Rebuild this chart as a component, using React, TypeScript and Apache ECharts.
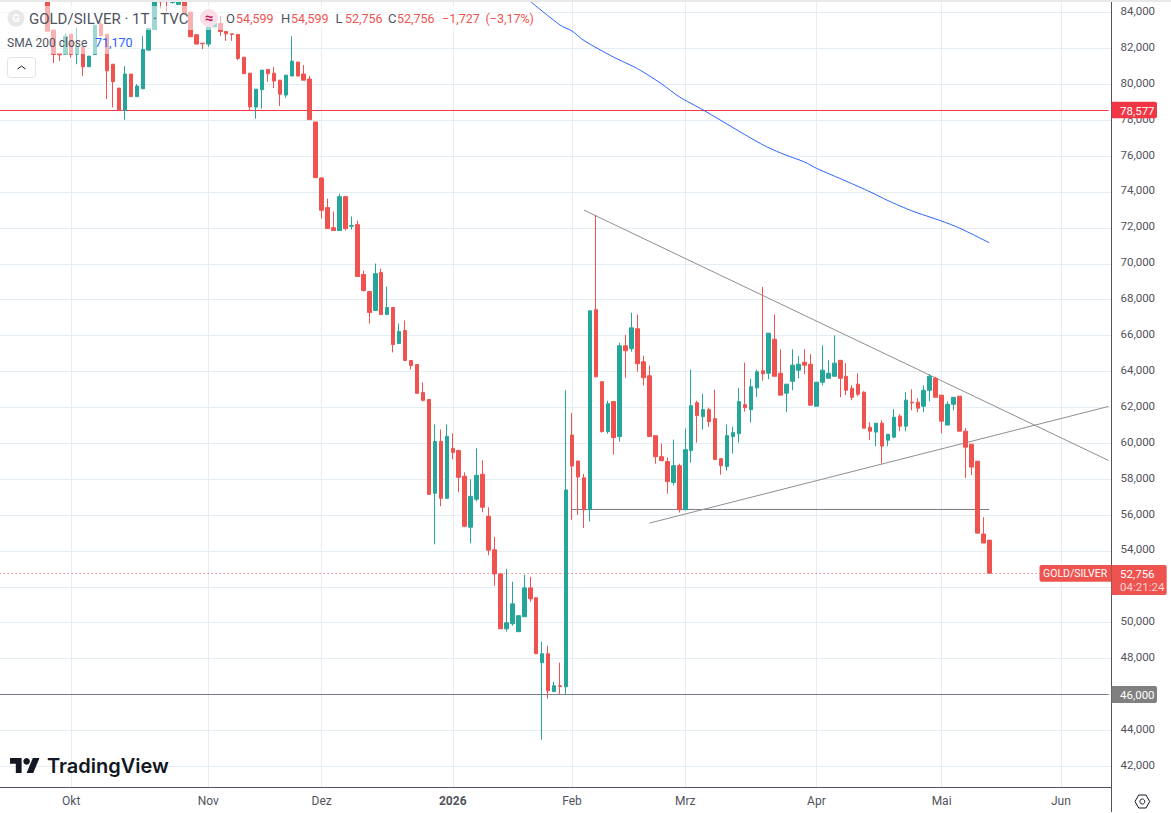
import React, { useEffect, useRef } from "react";
import * as echarts from "echarts";

const slotCount = 187;
const leadingSlots = 8;
const monthLabels: Record<number, string> = { 12: "Okt", 35: "Nov", 54: "Dez", 76: "2026", 96: "Feb", 115: "Mrz", 137: "Apr", 158: "Mai", 178: "Jun" };

const opens = [85.5,83.02,81.72,81.68,82.79,81.68,82.09,80.98,81.66,83.35,82.79,81.12,79.79,78.55,80.57,79.31,79.75,81.90,83.05,85.0,84.9,84.55,84.45,85.0,84.02,82.76,82.29,82.24,83.20,83.39,82.94,82.81,82.78,81.51,80.62,78.73,79.70,80.83,80.62,80.23,79.40,80.46,81.24,80.57,80.29,77.90,74.78,73.13,72.01,71.85,73.74,72.09,72.18,69.40,68.45,67.40,69.51,67.17,67.56,65.56,66.28,64.61,64.39,62.83,62.44,57.21,60.10,56.93,59.71,59.60,58.16,55.32,56.88,58.27,55.93,54.06,52.72,49.66,49.94,49.50,50.33,51.94,51.39,47.77,48.27,46.16,46.49,46.43,60.46,59.01,58.07,56.30,67.44,63.43,60.65,62.32,60.37,65.43,65.27,66.38,64.54,63.76,60.42,59.25,58.98,57.81,58.75,56.30,59.59,62.26,61.48,61.87,61.37,59.14,58.70,60.37,60.53,62.15,61.87,63.09,64.04,63.90,65.79,63.90,62.79,63.45,64.07,64.51,64.40,62.06,63.40,63.62,63.73,64.62,63.73,63.06,63.29,62.84,60.89,60.62,61.12,60.17,60.34,61.51,60.95,62.29,62.29,62.06,62.95,63.62,62.68,61.01,62.17,62.62,60.67,59.95,59.0,54.94,54.599];
const closes = [82.96,81.66,81.64,82.68,81.66,82.09,80.98,81.57,83.29,82.70,80.75,80.14,78.55,80.57,79.31,79.90,81.94,83.11,85.0,84.6,84.6,84.9,84.9,83.94,82.65,82.24,82.26,83.20,83.39,82.94,82.81,82.78,81.44,80.59,78.75,79.73,80.79,80.59,80.18,79.45,80.51,81.29,80.46,80.23,78.03,74.80,72.98,71.96,71.85,73.74,71.96,72.13,69.29,68.51,67.28,69.45,67.17,67.56,65.50,66.23,64.61,64.33,62.78,62.39,57.15,60.10,56.93,60.38,59.49,58.10,55.37,57.04,58.21,56.43,54.04,52.72,49.66,50.00,51.05,50.39,51.94,51.33,48.27,48.27,46.21,46.49,46.45,57.40,58.73,58.12,56.29,67.38,63.71,60.65,62.20,60.31,65.43,65.15,66.43,64.43,63.65,60.37,59.25,59.03,57.86,58.75,56.30,59.64,62.09,61.54,61.87,61.20,59.09,58.75,60.42,60.59,62.32,61.98,63.15,63.98,63.87,66.13,63.73,62.68,63.29,64.35,64.40,64.35,62.12,63.40,64.07,63.90,64.46,63.62,62.95,62.56,62.73,60.84,60.67,61.12,59.84,60.50,61.45,60.95,62.40,62.25,61.95,62.95,63.73,62.56,61.23,62.17,62.56,60.67,59.78,58.67,54.99,54.44,52.756];
const highs = [85.5,83.02,81.72,82.83,82.79,83.17,82.09,81.57,83.29,83.50,82.79,81.12,79.79,81.01,80.57,80.01,82.68,83.11,85.0,85.0,84.9,84.9,84.9,85.0,84.02,82.79,82.29,83.4,83.57,83.80,82.94,82.81,82.78,81.51,80.62,79.73,80.79,80.83,80.96,80.23,80.51,82.68,81.24,81.07,80.46,77.90,74.83,73.63,72.91,73.91,73.74,72.63,72.40,69.62,68.45,70.01,69.73,68.73,67.56,66.67,66.84,64.61,64.39,63.39,62.44,61.05,60.77,61.05,60.55,59.60,58.38,57.99,59.71,59.05,56.43,54.78,52.72,53.0,52.28,50.39,52.67,52.56,51.39,48.94,48.72,46.71,47.77,62.96,61.68,59.01,58.29,67.38,72.72,63.43,62.37,62.32,65.60,66.04,67.27,67.16,64.88,64.32,60.42,59.98,59.20,60.20,58.86,60.81,64.10,62.37,62.76,61.98,62.98,59.14,61.04,60.92,63.09,64.49,63.60,64.10,68.71,66.13,67.18,65.24,63.29,65.24,64.85,65.24,64.96,63.40,65.46,64.62,66.01,64.62,64.46,63.23,63.90,62.90,61.17,61.12,61.28,60.50,61.90,61.62,62.84,63.01,62.51,63.23,63.84,63.70,62.68,62.34,62.56,62.62,60.84,59.95,59.0,55.88,54.599];
const lows = [82.96,81.18,81.31,81.68,81.48,81.12,80.47,80.98,81.66,82.70,79.18,78.71,78.55,78.03,79.31,79.31,79.75,81.90,83.05,84.22,84.04,84.5,84.45,83.94,82.65,82.24,81.96,82.09,83.20,82.70,82.42,82.42,81.35,80.59,78.55,78.08,78.64,80.14,79.79,78.79,79.25,80.46,80.46,80.23,78.03,74.80,72.52,71.96,71.85,71.85,71.85,71.90,69.29,68.45,66.67,67.40,67.17,67.17,65.06,65.56,64.61,64.11,62.78,62.33,57.15,54.37,56.49,56.93,59.10,57.27,55.32,54.43,56.76,56.15,53.76,52.06,49.66,49.50,49.83,49.50,50.33,51.16,48.27,43.48,45.77,46.16,46.03,46.03,55.73,56.01,55.28,55.64,63.65,60.59,60.53,59.37,60.09,63.65,65.10,63.99,63.21,60.37,58.86,59.03,57.19,57.64,56.14,56.25,58.92,60.03,60.76,60.92,59.09,58.25,58.47,59.42,60.03,61.76,61.15,62.59,63.48,63.57,63.73,62.68,61.73,62.95,63.62,63.84,62.12,62.06,63.23,63.62,63.73,62.56,62.68,62.40,62.62,60.84,60.17,59.84,58.87,59.84,60.28,60.67,60.67,61.84,61.73,61.73,62.34,62.56,60.56,61.01,61.84,60.67,58.06,58.22,54.99,54.44,52.756];

const smaSlots = [89,94,96,98,103,107,111,114,118,124,128,131,135,137,142,146,149,153,158,161,166];
const smaValues = [84.62,83.30,82.97,82.44,81.51,80.87,80.03,79.30,78.57,77.39,76.63,76.17,75.67,75.32,74.60,74.01,73.52,72.95,72.38,71.99,71.17];

const upperTrend = [[98, 72.99], [186, 59.04]];
const lowerTrend = [[109, 55.55], [186, 62.05]];
const shelfLine = [[96, 56.31], [166, 56.31]];
const resistanceLine = [[0, 78.54], [186, 78.54]];
const supportLine = [[0, 46], [186, 46]];
const lastPriceLine = [[0, 52.74], [175, 52.74]];
const hiddenTicks = [40, 46, 52, 86];

const FONT = "Roboto, sans-serif";
const INK = "#50535e";
const RED = "#ef5350";
const GREEN = "#26a69a";
const GRID = "#e3edf3";

echarts.graphic.registerShape(
  "tvLogo",
  echarts.graphic.extendPath("M14 22H7V11H0V4h14v18zM28 22h-8l7.5-18h8L28 22z", {})
);

const label = (text: string, x: number, y: number, fill: string, size = 13, extra: any = {}) => ({
  type: "text",
  z: 110,
  style: { text, x, y, fill, font: `${extra.weight || 400} ${size}px ${extra.family || FONT}`, verticalAlign: "middle", align: extra.align || "left" },
});

export default function App() {
  const ref = useRef<HTMLDivElement>(null);
  useEffect(() => {
    const chart = echarts.init(ref.current!, undefined, { renderer: "svg" });
    const categories = Array.from({ length: slotCount }, (_, j) => monthLabels[j] || "");
    const candles = categories.map((_, j) => {
      const i = j - leadingSlots;
      return i >= 0 && i < opens.length ? [opens[i], closes[i], lows[i], highs[i]] : ["-", "-", "-", "-"];
    });
    const drawing = (data: number[][], color: string, extra: any = {}) => ({
      type: "line",
      data,
      showSymbol: false,
      symbol: "none",
      silent: true,
      z: 1,
      lineStyle: { color, width: 1, ...extra },
    });
    const showMonth = (index: number) => !!monthLabels[index];

    chart.setOption({
      animation: false,
      backgroundColor: "#ffffff",
      grid: { left: -3.3, width: 1114.8, top: -23.39, height: 825.56, containLabel: false, outerBoundsMode: "none" },
      xAxis: [
        {
          type: "category",
          data: categories,
          boundaryGap: true,
          axisLine: { show: false },
          axisTick: { show: false },
          axisLabel: { show: false },
          splitLine: { show: true, alignWithLabel: true, interval: showMonth, lineStyle: { color: GRID, width: 1 } },
        },
        {
          type: "category",
          data: categories,
          position: "bottom",
          offset: -15.17,
          z: 10,
          boundaryGap: true,
          axisLine: { show: true, onZero: false, lineStyle: { color: INK, width: 1 } },
          axisTick: { show: false },
          splitLine: { show: false },
          axisLabel: {
            interval: showMonth,
            margin: 8,
            color: INK,
            fontFamily: FONT,
            fontSize: 12,
            formatter: (v: string) => (v === "2026" ? "{b|2026}" : v),
            rich: { b: { fontWeight: 700, color: INK, fontFamily: FONT, fontSize: 12 } },
          },
        },
      ],
      yAxis: {
        type: "value",
        position: "right",
        min: 40,
        max: 86,
        interval: 2,
        axisLine: { show: true, lineStyle: { color: INK, width: 1 } },
        axisTick: { show: false },
        splitLine: { show: true, lineStyle: { color: GRID, width: 1 } },
        axisLabel: {
          margin: 9,
          color: INK,
          fontFamily: FONT,
          fontSize: 11.5,
          formatter: (v: number) => (hiddenTicks.includes(v) ? "" : `{t|${v.toFixed(3).replace(".", ",")}}`),
          rich: { t: { color: INK, fontFamily: FONT, fontSize: 11.5, padding: [0, 0, 3, 0] } },
        },
      },
      series: [
        drawing(resistanceLine, "#f23645"),
        drawing(supportLine, "#787b86"),
        drawing(shelfLine, "#787b86"),
        drawing(upperTrend, "#8f8f8f"),
        drawing(lowerTrend, "#8f8f8f"),
        {
          type: "candlestick",
          data: candles,
          barWidth: 4,
          z: 2,
          silent: true,
          itemStyle: { color: GREEN, color0: RED, borderColor: GREEN, borderColor0: RED, borderWidth: 1 },
        },
        {
          ...drawing(smaSlots.map((s, k) => [s, smaValues[k]]), "#2962ff"),
          smooth: 0.25,
          z: 3,
        },
        { ...drawing(lastPriceLine, RED, { type: [1, 3] }), z: 3 },
      ],
      graphic: [
        { type: "rect", z: 5, shape: { x: 0, y: 787.5, width: 1111, height: 26 }, style: { fill: "#ffffff" } },
        { type: "rect", z: 100, shape: { x: 0, y: 0, width: 1171, height: 2 }, style: { fill: "#e9e9ea" } },
        { type: "rect", z: 100, shape: { x: 0, y: 6, width: 535, height: 24 }, style: { fill: "rgba(255,255,255,0.55)" } },
        { type: "rect", z: 100, shape: { x: 0, y: 30, width: 120, height: 24 }, style: { fill: "rgba(255,255,255,0.55)" } },
        { type: "circle", z: 105, shape: { cx: 16, cy: 18.3, r: 8.5 }, style: { fill: "#e8e8e8" } },
        label("G", 16, 18.5, "#ffffff", 11, { align: "center", weight: 700 }),
        label("GOLD/SILVER · 1T · TVC", 29, 18.5, INK, 15),
        { type: "circle", z: 105, shape: { cx: 209, cy: 18, r: 9 }, style: { fill: "#fbdfe8" } },
        label("≈", 209, 17.5, "#c2185b", 15, { align: "center", weight: 700 }),
        label("O", 226, 18.5, INK),
        label("54,599", 236, 18.5, RED, 12.5),
        label("H", 281, 18.5, INK),
        label("54,599", 291, 18.5, RED, 12.5),
        label("L", 335.5, 18.5, INK),
        label("52,756", 345, 18.5, RED, 12.5),
        label("C", 388, 18.5, INK),
        label("52,756", 397, 18.5, RED, 12.5),
        label("−1,727", 442, 18.5, RED, 12.5),
        label("(−3,17%)", 485.5, 18.5, RED, 12.5),
        label("SMA 200 close", 7, 42.5, INK, 12),
        label("71,170", 95, 42.5, "#2962ff", 12.5),
        { type: "rect", z: 105, shape: { x: 7.5, y: 57.5, width: 28, height: 20, r: 3 }, style: { fill: "#ffffff", stroke: "#e0e3eb", lineWidth: 1 } },
        { type: "polyline", z: 106, shape: { points: [[17.5, 69], [21.5, 66], [25.5, 69]] }, style: { fill: "none", stroke: "#131722", lineWidth: 1 } },
        { type: "tvLogo", z: 105, x: 10, y: 754.7, scaleX: 0.83, scaleY: 0.83, style: { fill: "#131722" } },
        { type: "circle", z: 105, shape: { cx: 26.6, cy: 761.3, r: 3.3 }, style: { fill: "#131722" } },
        label("TradingView", 47, 766, "#131722", 20, { family: "Inter, sans-serif", weight: 600 }),
        { type: "line", z: 105, shape: { x1: 1111.5, y1: 787, x2: 1111.5, y2: 812 }, style: { stroke: INK, lineWidth: 1 } },
        { type: "polygon", z: 105, shape: { points: [[1135, 801.5], [1138.7, 795], [1146, 795], [1149.7, 801.5], [1146, 808], [1138.7, 808]] }, style: { fill: "none", stroke: "#131722", lineWidth: 1 } },
        { type: "circle", z: 105, shape: { cx: 1142.3, cy: 801.5, r: 2.5 }, style: { fill: "none", stroke: "#131722", lineWidth: 1 } },
        { type: "rect", z: 105, shape: { x: 1111.5, y: 101.7, width: 45.5, height: 16.6, r: [0, 2, 2, 0] }, style: { fill: "#f23645" } },
        label("78,577", 1120, 110.5, "#ffffff", 11.5),
        { type: "rect", z: 105, shape: { x: 1039.5, y: 565, width: 71.5, height: 16.8, r: [2, 0, 0, 2] }, style: { fill: RED } },
        label("GOLD/SILVER", 1043, 573.5, "#ffffff", 10.5),
        { type: "rect", z: 105, shape: { x: 1111.5, y: 565, width: 55.2, height: 30, r: [0, 2, 2, 0] }, style: { fill: RED } },
        label("52,756", 1120, 573.5, "#ffffff", 11.5),
        label("04:21:24", 1120, 587, "rgba(255,255,255,0.75)", 11.5),
        { type: "rect", z: 105, shape: { x: 1111.5, y: 686, width: 45.5, height: 17, r: [0, 2, 2, 0] }, style: { fill: "#808080" } },
        label("46,000", 1120, 694.5, "#ffffff", 11.5),
      ],
    });
    return () => chart.dispose();
  }, []);
  return <div ref={ref} style={{ position: "absolute", left: 0, top: 0, width: 1171, height: 813, overflow: "hidden" }} />;
}
